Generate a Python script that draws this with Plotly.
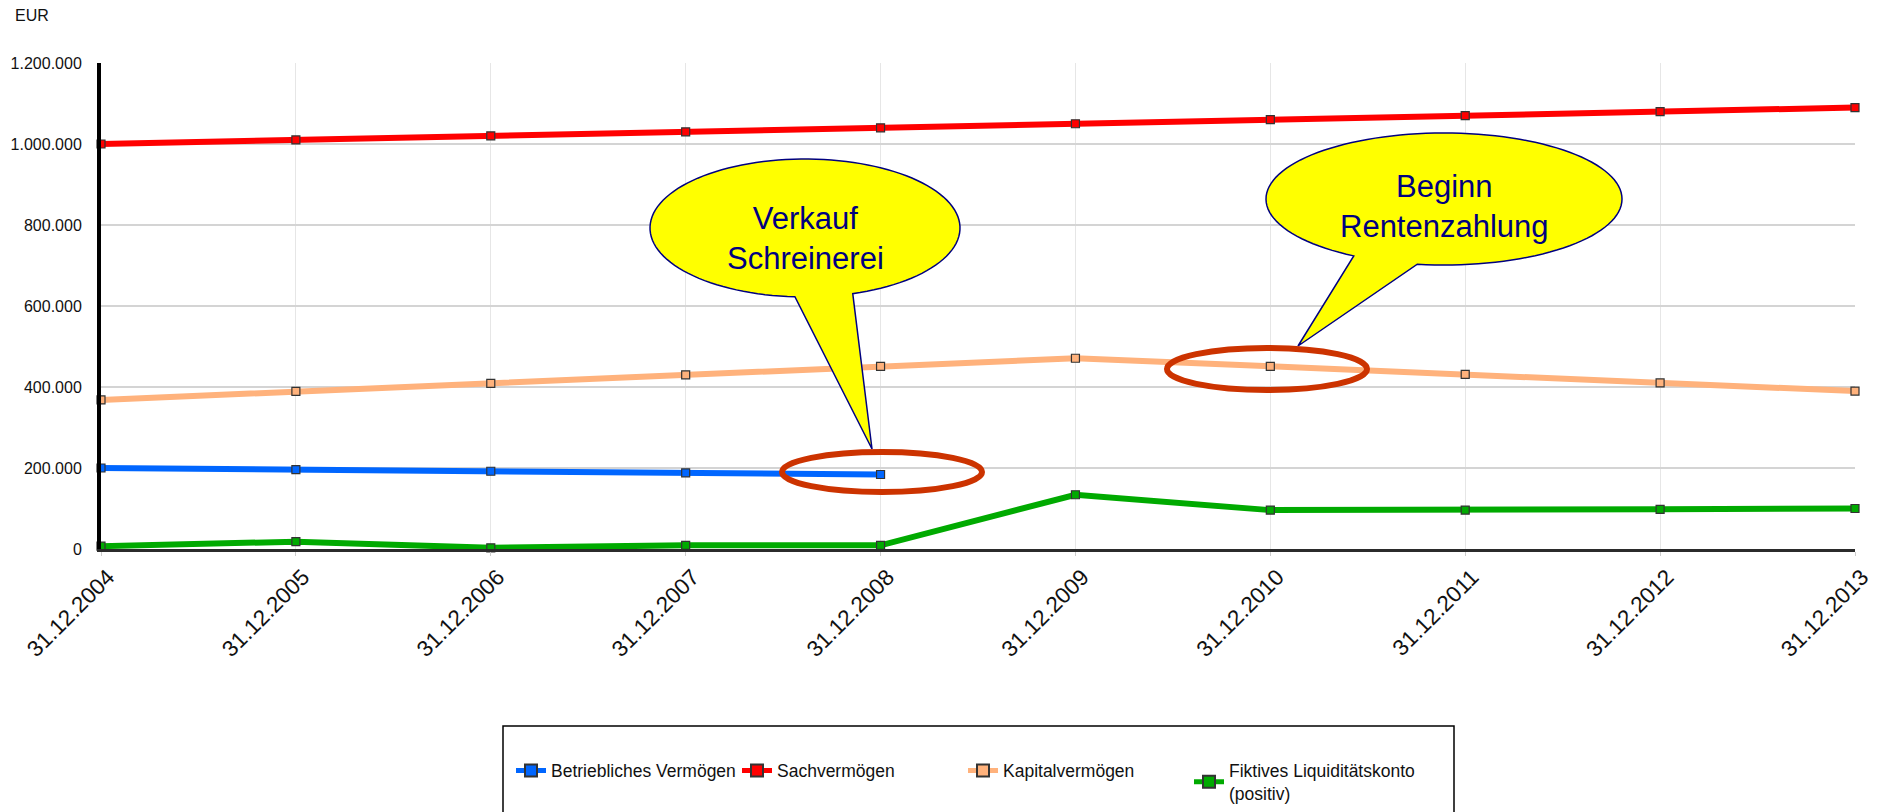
import math
import plotly.graph_objects as go

# ---------------- data ----------------
dates = ["31.12.2004", "31.12.2005", "31.12.2006", "31.12.2007", "31.12.2008",
         "31.12.2009", "31.12.2010", "31.12.2011", "31.12.2012", "31.12.2013"]
betriebliches = [200000, 196000, 192000, 188000, 184000, None, None, None, None, None]
sachvermoegen = [1000000, 1010000, 1020000, 1030000, 1040000,
                 1050000, 1060000, 1070000, 1080000, 1090000]
kapitalvermoegen = [368000, 389000, 409000, 430000, 451000,
                    471000, 451000, 431000, 410000, 390000]
liquiditaet = [7000, 18000, 3000, 9000, 9000, 134000, 96000, 96000, 98000, 100000]

series_names = ["Betriebliches Vermögen", "Sachvermögen", "Kapitalvermögen",
                "Fiktives Liquiditätskonto<br>(positiv)"]
series_values = [betriebliches, sachvermoegen, kapitalvermoegen, liquiditaet]
series_colors = ["#0066FF", "#FF0000", "#FFB27C", "#00AA00"]

y_ticks = [0, 200000, 400000, 600000, 800000, 1000000, 1200000]

# ---------------- layout geometry (page pixels; page body has an 8px margin) ----------------
OFF = 8
W, H = 1892 - OFF, 812 - OFF
PL, PR, PT, PB = 101, 1855, 63, 549  # plot area edges in page pixels


def px2paper(px, py):
    return (px - PL) / (PR - PL), (PB - py) / (PB - PT)


FONT = "Liberation Sans, Arial, sans-serif"

fig = go.Figure()
for name, vals, col in zip(series_names, series_values, series_colors):
    fig.add_trace(go.Scatter(
        x=dates, y=vals, name=name, mode="lines+markers",
        line=dict(color=col, width=6),
        marker=dict(symbol="square", size=8, color=col,
                    line=dict(color="#333333", width=1.2)),
        cliponaxis=False, connectgaps=False,
    ))


def callout_path(cx, cy, rx, ry, b1, b2, tip, n=120):
    def ang(p):
        return math.atan2((p[1] - cy) / ry, (p[0] - cx) / rx)
    a1, a2 = ang(b1), ang(b2)
    lo, hi = min(a1, a2), max(a1, a2)
    pts = []
    for i in range(n + 1):
        t = hi + (lo + 2 * math.pi - hi) * i / n
        pts.append((cx + rx * math.cos(t), cy + ry * math.sin(t)))
    pts.append(tip)
    d = ""
    for i, (x, y) in enumerate(pts):
        xp, yp = px2paper(x, y)
        d += ("M" if i == 0 else "L") + f"{xp:.5f},{yp:.5f} "
    return d + "Z"


shapes = []
# speech bubbles
shapes.append(dict(type="path", xref="paper", yref="paper", layer="above",
                   path=callout_path(805, 228, 155, 69, (795, 297), (853, 294), (872, 449)),
                   fillcolor="#FFFF00", line=dict(color="#000080", width=1.5)))
shapes.append(dict(type="path", xref="paper", yref="paper", layer="above",
                   path=callout_path(1444, 199, 178, 66, (1352, 257), (1417, 265), (1298, 346)),
                   fillcolor="#FFFF00", line=dict(color="#000080", width=1.5)))
# red ellipses
for (cx, cy, rx, ry) in [(882, 472, 100, 20), (1267, 369, 100, 21)]:
    x0, y0 = px2paper(cx - rx, cy + ry)
    x1, y1 = px2paper(cx + rx, cy - ry)
    shapes.append(dict(type="circle", xref="paper", yref="paper", layer="above",
                       x0=x0, y0=y0, x1=x1, y1=y1,
                       line=dict(color="#CC3300", width=6)))
# legend frame
lx0, ly0 = px2paper(503, 830)
lx1, ly1 = px2paper(1454, 726)
shapes.append(dict(type="rect", xref="paper", yref="paper", layer="above",
                   x0=lx0, y0=ly0, x1=lx1, y1=ly1,
                   line=dict(color="black", width=1.5)))

annotations = []
ex, ey = px2paper(13, 16)
annotations.append(dict(text="EUR", xref="paper", yref="paper", x=ex, y=ey,
                        xanchor="left", yanchor="middle", showarrow=False,
                        font=dict(family=FONT, size=16, color="#111111")))
t1x, t1y = px2paper(805, 238)
annotations.append(dict(text="Verkauf<br>Schreinerei", xref="paper", yref="paper",
                        x=t1x, y=t1y, xanchor="center", yanchor="middle",
                        showarrow=False, align="center",
                        font=dict(family=FONT, size=31, color="#000080")))
t2x, t2y = px2paper(1444, 206)
annotations.append(dict(text="Beginn<br>Rentenzahlung", xref="paper", yref="paper",
                        x=t2x, y=t2y, xanchor="center", yanchor="middle",
                        showarrow=False, align="center",
                        font=dict(family=FONT, size=31, color="#000080")))

legx, legy = px2paper(511, 782)

fig.update_layout(
    width=W, height=H,
    margin=dict(l=PL - OFF, r=(W + OFF) - PR, t=PT - OFF, b=(H + OFF) - PB, autoexpand=False),
    paper_bgcolor="white", plot_bgcolor="white",
    separators=",.",
    font=dict(family=FONT, color="#111111"),
    showlegend=True,
    legend=dict(orientation="h", x=legx, y=legy, xanchor="left", yanchor="middle",
                entrywidth=181, entrywidthmode="pixels", itemsizing="constant",
                font=dict(family=FONT, size=17.5, color="#111111"),
                bgcolor="rgba(0,0,0,0)", itemclick=False, tracegroupgap=0),
    xaxis=dict(type="category", range=[0, len(dates) - 1],
               showgrid=True, gridcolor="#E6E6E6", gridwidth=1,
               showline=True, linecolor="#2B2B2B", linewidth=3,
               ticks="outside", ticklen=4, tickcolor="#CCCCCC",
               tickangle=-45, tickfont=dict(family=FONT, size=22.5, color="#111111"),
               ticklabelstandoff=-1, ticklabelshift=7, zeroline=False),
    yaxis=dict(range=[0, 1200000], tickvals=y_ticks, tickformat=",d",
               showgrid=True, gridcolor="#D4D4D4", gridwidth=2,
               showline=True, linecolor="black", linewidth=4,
               ticks="", tickfont=dict(family=FONT, size=16, color="#111111"),
               ticklabelstandoff=12, zeroline=False),
    shapes=shapes, annotations=annotations,
)

fig.write_html("out.html")
